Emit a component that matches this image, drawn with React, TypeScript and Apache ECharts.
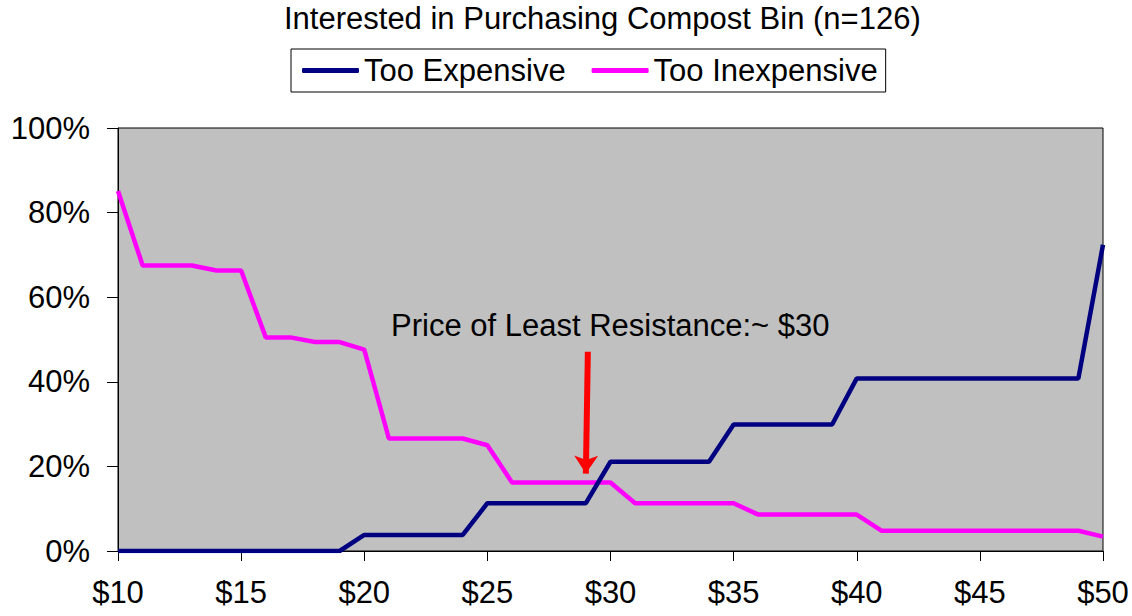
import React, { useEffect, useRef } from "react";
import * as echarts from "echarts";

const prices = [10, 11, 12, 13, 14, 15, 16, 17, 18, 19, 20, 21, 22, 23, 24, 25, 26, 27, 28, 29, 30, 31, 32, 33, 34, 35, 36, 37, 38, 39, 40, 41, 42, 43, 44, 45, 46, 47, 48, 49, 50];
const tooExpensive = [0, 0, 0, 0, 0, 0, 0, 0, 0, 0, 3.8, 3.8, 3.8, 3.8, 3.8, 11.3, 11.3, 11.3, 11.3, 11.3, 21.1, 21.1, 21.1, 21.1, 21.1, 29.9, 29.9, 29.9, 29.9, 29.9, 40.8, 40.8, 40.8, 40.8, 40.8, 40.8, 40.8, 40.8, 40.8, 40.8, 72.4];
const tooInexpensive = [85.1, 67.5, 67.5, 67.5, 66.3, 66.3, 50.5, 50.5, 49.4, 49.4, 47.6, 26.6, 26.6, 26.6, 26.6, 25.0, 16.2, 16.2, 16.2, 16.2, 16.2, 11.3, 11.3, 11.3, 11.3, 11.3, 8.6, 8.6, 8.6, 8.6, 8.6, 4.8, 4.8, 4.8, 4.8, 4.8, 4.8, 4.8, 4.8, 4.8, 3.4];
const arrowFrom = [29.08, 47.1];
const arrowTo = [29.0, 18.3];

const FONT = "'Liberation Sans', Arial, sans-serif";

export default function App() {
  const ref = useRef<HTMLDivElement>(null);
  useEffect(() => {
    if (!ref.current) return;
    const chart = echarts.init(ref.current, undefined, { renderer: "svg" });
    chart.setOption({
      animation: false,
      backgroundColor: "#fff",
      textStyle: { fontFamily: FONT },
      graphic: [
        {
          type: "text",
          left: 284,
          top: 3,
          style: {
            text: "Interested in Purchasing Compost Bin (n=126)",
            font: `31px ${FONT}`,
            fill: "#000",
          },
        },
        {
          type: "text",
          left: 391,
          top: 310,
          z: 100,
          style: {
            text: "Price of Least Resistance:~ $30",
            font: `31px ${FONT}`,
            fill: "#000",
          },
        },
      ],
      legend: {
        left: 291,
        top: 49,
        padding: [6, 8, 6, 11],
        itemGap: 26,
        itemWidth: 57,
        itemHeight: 5,
        icon: "roundRect",
        borderColor: "#000",
        borderWidth: 1,
        backgroundColor: "#fff",
        textStyle: { fontSize: 31, color: "#000", fontFamily: FONT },
        data: ["Too Expensive", "Too Inexpensive"],
      },
      grid: {
        left: 118,
        right: 29,
        top: 128,
        bottom: 65,
        show: true,
        backgroundColor: "#C0C0C0",
        borderColor: "#000",
        borderWidth: 1,
      },
      xAxis: {
        type: "value",
        min: 10,
        max: 50,
        interval: 5,
        axisLine: { show: true, lineStyle: { color: "#000", width: 1 } },
        axisTick: { show: true, length: 10, lineStyle: { color: "#000" } },
        splitLine: { show: false },
        axisLabel: {
          formatter: (v: number) => "$" + v,
          fontSize: 31,
          color: "#000",
          margin: 26,
          fontFamily: FONT,
        },
      },
      yAxis: {
        type: "value",
        min: 0,
        max: 100,
        interval: 20,
        axisLine: { show: true, lineStyle: { color: "#000", width: 1 } },
        axisTick: { show: true, length: 11, lineStyle: { color: "#000" } },
        splitLine: { show: false },
        axisLabel: {
          formatter: "{value}%",
          fontSize: 31,
          color: "#000",
          margin: 28,
          fontFamily: FONT,
        },
      },
      series: [
        {
          name: "Too Expensive",
          type: "line",
          symbol: "none",
          color: "#000080",
          lineStyle: { color: "#000080", width: 4.5 },
          data: prices.map((p, i) => [p, tooExpensive[i]]),
          z: 3,
        },
        {
          name: "Too Inexpensive",
          type: "line",
          symbol: "none",
          color: "#FF00FF",
          lineStyle: { color: "#FF00FF", width: 4.5 },
          data: prices.map((p, i) => [p, tooInexpensive[i]]),
          z: 2,
          markLine: {
            silent: true,
            symbol: ["none", "arrow"],
            symbolSize: [18, 18],
            label: { show: false },
            lineStyle: { color: "#FF0000", width: 6, type: "solid" },
            data: [[{ coord: arrowFrom }, { coord: arrowTo }]],
            z: 10,
          },
        },
      ],
    });
    return () => chart.dispose();
  }, []);
  return (
    <div
      ref={ref}
      style={{ position: "fixed", left: 0, top: 0, width: 1132, height: 616 }}
    />
  );
}
